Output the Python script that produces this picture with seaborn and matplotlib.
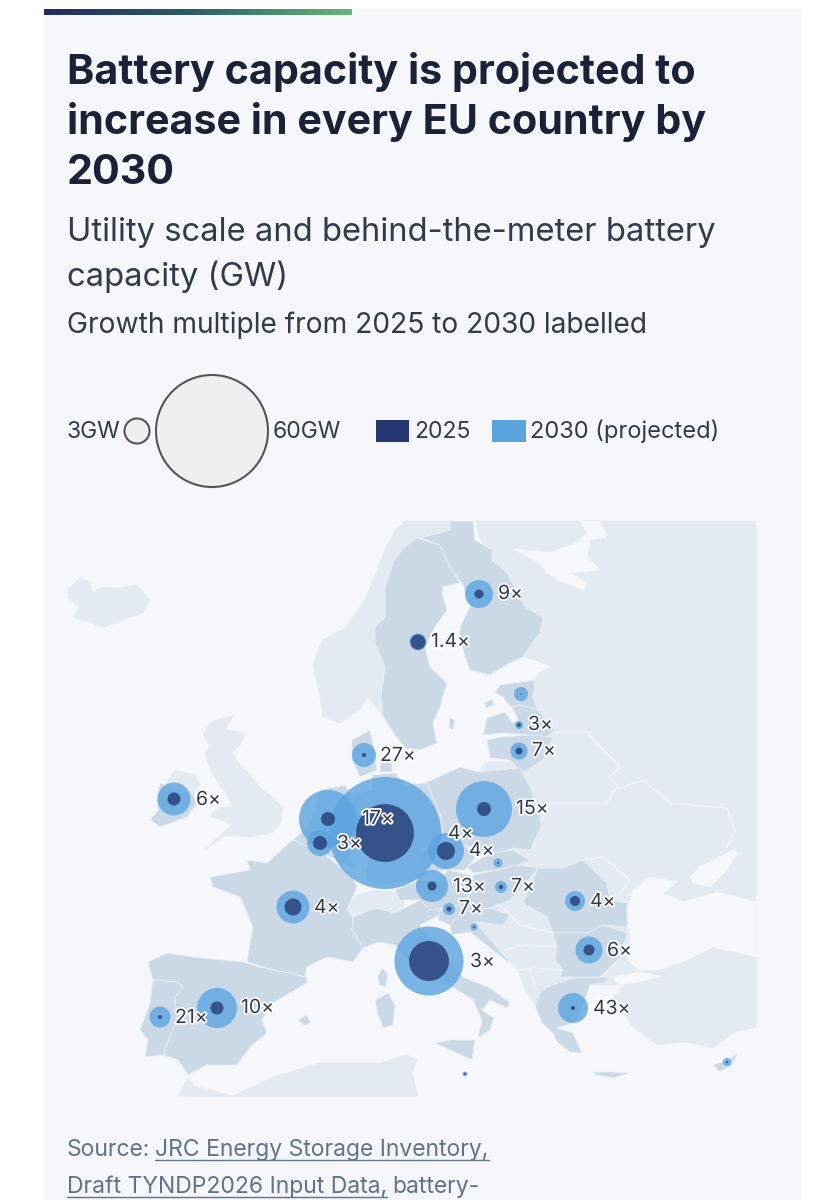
import matplotlib
matplotlib.use('Agg')
import matplotlib.pyplot as plt
import matplotlib.patheffects as pe
from matplotlib.patches import Rectangle
import numpy as np
import pandas as pd
import seaborn as sns

sns.set_style('white')
plt.rcParams['font.family'] = ['Inter', 'DejaVu Sans']

# capacity in GW
countries = ['FI', 'SE', 'EE', 'LV', 'LT', 'DK', 'IE', 'PL', 'NL', 'DE', 'BE', 'CZ', 'FR', 'AT',
             'SK', 'HU', 'SI', 'HR', 'RO', 'BG', 'IT', 'GR', 'ES', 'PT', 'MT', 'CY']
gw_2025 = [0.39, 1.08, 0.01, 0.08, 0.23, 0.08, 0.81, 0.94, 0.94, 16, 0.94, 1.55, 1.38, 0.39,
           0.02, 0.09, 0.12, 0.02, 0.48, 0.58, 7.65, 0.08, 0.81, 0.08, 0.02, 0.02]
gw_2030 = [3.75, 1.38, 0.94, 0.31, 1.38, 2.75, 5.2, 15, 16.1, 62, 3.2, 6.2, 5.2, 4.9,
           0.39, 0.69, 0.69, 0.23, 1.9, 3.5, 22.8, 4.3, 7.65, 2.1, 0.12, 0.31]
# where each country sits on the map
map_x = [479, 418, 521, 519, 519, 364, 174, 484, 328, 385, 320, 446, 293, 432,
         498, 501, 449, 474, 575, 589, 429, 573, 217, 160, 465, 727]
map_y = [594, 642, 694, 725, 751, 755, 799, 809, 819, 833, 843, 851, 907, 886,
         863, 887, 909, 927, 901, 950, 961, 1008, 1008, 1017, 1074, 1062]

labels = ['9×', '1.4×', '3×', '7×', '27×', '6×', '15×', '17×', '3×', '4×', '4×', '13×', '7×', '7×',
          '4×', '4×', '6×', '3×', '43×', '10×', '21×']
label_x = [498, 431, 528, 532, 380, 196, 516, 362, 337, 448, 469, 453, 511, 459,
           314, 590, 607, 470, 593, 241, 175]
label_y = [594, 642, 725, 751, 756, 800, 809, 819, 844, 834, 851, 887, 887, 909,
           908, 902, 951, 962, 1009, 1008, 1018]

legend_gw = [3, 60]
legend_x = [137, 212]
legend_y = [431, 431]

# map outlines
light_land = {
    'iceland': [(67, 590), (80, 578), (90, 582), (92, 592), (103, 587), (117, 588), (137, 585), (150, 600),
                (143, 613), (123, 620), (103, 628), (90, 622), (73, 617), (80, 607), (68, 598)],
    'norway': [(313, 665), (322, 640), (345, 628), (365, 600), (375, 575), (385, 550), (395, 530), (405, 521),
               (452, 521), (450, 530), (420, 538), (403, 548), (385, 587), (385, 617), (375, 627), (385, 667),
               (381, 697), (383, 717), (368, 697), (360, 710), (340, 723), (323, 717), (320, 697)],
    'uk': [(210, 723), (222, 718), (233, 716), (225, 730), (246, 733), (240, 745), (232, 752), (240, 765),
           (250, 775), (262, 790), (270, 795), (283, 808), (281, 822), (272, 833), (250, 837), (225, 836),
           (205, 850), (217, 838), (232, 825), (222, 820), (210, 817), (218, 808), (232, 806), (228, 795),
           (220, 785), (213, 775), (205, 755), (210, 745), (203, 735)],
    'nireland': [(165, 785), (175, 770), (195, 775), (200, 785), (192, 797), (175, 790)],
    'africa': [(178, 1096), (188, 1078), (195, 1086), (233, 1096), (273, 1077), (320, 1063), (380, 1063),
               (407, 1055), (417, 1060), (412, 1072), (418, 1096)],
    'east': [(475, 521), (756, 521), (756, 1027), (733, 1033), (713, 1048), (687, 1042), (657, 1045), (633, 1027),
             (613, 997), (625, 985), (590, 985), (560, 995), (535, 1005), (525, 990), (518, 970), (500, 950),
             (473, 925), (465, 915), (470, 900), (500, 850), (500, 775), (480, 770), (485, 762), (520, 762),
             (530, 690), (535, 680), (540, 672), (553, 667), (535, 660), (523, 657), (510, 640)],
    'swiss': [(355, 895), (375, 890), (400, 893), (405, 905), (395, 913), (375, 908), (355, 915), (347, 910)],
}
sea = {
    'white': [(580, 521), (587, 533), (577, 543), (550, 552), (513, 549), (540, 563), (547, 573), (563, 582),
              (583, 590), (587, 583), (570, 573), (600, 570), (587, 557), (590, 540), (607, 537), (600, 521)],
    'black': [(627, 910), (633, 890), (650, 877), (677, 882), (663, 893), (683, 902), (717, 892), (756, 902),
              (756, 957), (740, 953), (713, 947), (687, 960), (660, 970), (640, 970), (627, 960), (630, 937)],
    'azov': [(690, 877), (700, 867), (733, 850), (737, 853), (727, 870), (710, 887), (693, 883)],
    'marmara': [(613, 977), (640, 972), (660, 976), (640, 982), (618, 985)],
}
eu_land = {
    'sweden': [(417, 538), (403, 548), (393, 563), (385, 587), (385, 617), (375, 627), (375, 643), (385, 667),
               (381, 697), (383, 717), (395, 735), (405, 748), (420, 750), (437, 743), (433, 723), (440, 707),
               (447, 683), (430, 667), (425, 647), (435, 627), (447, 610), (443, 597), (443, 587), (455, 584),
               (460, 583), (450, 567), (440, 545)],
    'finland': [(450, 521), (473, 521), (475, 540), (492, 550), (492, 560), (507, 573), (525, 607), (543, 617),
                (540, 633), (523, 657), (510, 663), (490, 675), (470, 670), (465, 657), (460, 637), (460, 627),
                (470, 607), (463, 585), (450, 567), (440, 545), (420, 538), (450, 530)],
    'estonia': [(495, 692), (500, 685), (535, 680), (533, 697), (538, 710), (520, 705), (510, 707), (503, 697)],
    'latvia': [(483, 735), (487, 718), (505, 712), (513, 723), (518, 720), (512, 707), (520, 705), (538, 710),
               (555, 730), (545, 738), (530, 735), (505, 733)],
    'lithuania': [(487, 740), (500, 737), (533, 735), (553, 737), (543, 760), (523, 773), (510, 760), (490, 758)],
    'denmark': [(352, 740), (370, 730), (373, 743), (377, 770), (360, 777), (352, 760)],
    'zealand': [(380, 758), (392, 760), (392, 772), (380, 772)],
    'ireland': [(150, 820), (160, 827), (187, 817), (197, 803), (193, 793), (177, 790), (160, 783), (157, 797),
                (158, 810)],
    'poland': [(425, 783), (460, 767), (478, 772), (520, 768), (530, 787), (542, 825), (530, 850), (513, 848),
               (490, 856), (465, 845), (445, 838), (440, 815)],
    'germany': [(372, 775), (395, 773), (405, 785), (427, 783), (440, 815), (445, 838), (420, 850), (428, 875),
                (415, 880), (380, 885), (365, 880), (370, 850), (345, 835), (350, 795), (372, 790)],
    'benelux': [(293, 840), (310, 825), (320, 790), (345, 785), (355, 800), (345, 835), (355, 870), (323, 853)],
    'france': [(247, 860), (250, 870), (210, 877), (213, 887), (240, 897), (253, 927), (247, 962), (273, 970),
               (305, 977), (307, 967), (327, 957), (353, 962), (363, 948), (352, 930), (353, 917), (347, 910),
               (357, 887), (353, 877), (323, 853), (293, 840), (283, 848), (267, 863)],
    'corsica': [(383, 968), (388, 975), (386, 987), (379, 985), (378, 975)],
    'sardinia': [(375, 1000), (388, 993), (395, 1005), (393, 1025), (383, 1028), (378, 1015)],
    'spain': [(148, 962), (167, 953), (193, 957), (243, 962), (260, 967), (307, 977), (307, 983), (273, 1003),
              (262, 1020), (267, 1033), (250, 1047), (237, 1065), (207, 1065), (188, 1075), (178, 1060),
              (163, 1055), (167, 1043), (177, 1020), (175, 997), (183, 987), (177, 982), (153, 980), (150, 970)],
    'portugal': [(153, 980), (177, 982), (183, 987), (175, 997), (177, 1020), (167, 1043), (163, 1055), (145, 1057),
                 (148, 1040), (140, 1030), (150, 1003)],
    'mallorca': [(298, 1020), (306, 1015), (311, 1022), (305, 1026)],
    'italy': [(363, 948), (352, 930), (353, 917), (375, 908), (395, 913), (420, 900), (445, 905), (440, 915),
              (420, 925), (435, 945), (463, 977), (490, 988), (510, 1003), (507, 1008), (490, 1000), (482, 1010),
              (494, 1018), (490, 1030), (478, 1038), (482, 1020), (473, 1000), (450, 985), (420, 975), (395, 945),
              (378, 942)],
    'sicily': [(435, 1043), (450, 1040), (475, 1040), (472, 1060), (457, 1053)],
    'austria': [(395, 890), (420, 880), (440, 880), (448, 870), (470, 875), (472, 892), (460, 905), (430, 910),
                (420, 900), (400, 900)],
    'czechia': [(415, 855), (445, 838), (465, 845), (475, 858), (465, 870), (445, 870), (425, 875)],
    'slovakia': [(467, 867), (490, 853), (513, 850), (530, 860), (517, 865), (497, 870), (473, 873)],
    'hungary': [(473, 875), (497, 870), (517, 865), (538, 868), (520, 890), (510, 900), (490, 908), (462, 912),
                (460, 905), (472, 892)],
    'slovenia': [(440, 910), (460, 905), (462, 912), (450, 925), (438, 920)],
    'croatia': [(450, 925), (462, 912), (490, 908), (510, 915), (503, 925), (475, 922), (495, 945), (515, 968),
                (495, 952), (470, 932), (452, 935)],
    'romania': [(538, 868), (563, 868), (583, 860), (607, 883), (610, 900), (627, 903), (627, 927), (603, 925),
                (587, 933), (553, 933), (547, 917), (523, 903)],
    'bulgaria': [(553, 933), (587, 933), (603, 925), (627, 933), (620, 957), (610, 967), (600, 977), (560, 977),
                 (563, 970), (555, 960), (557, 947)],
    'greece': [(540, 993), (547, 987), (573, 978), (607, 977), (607, 982), (590, 985), (580, 1015), (573, 1023),
               (557, 1028), (573, 1033), (582, 1053), (570, 1052), (557, 1042), (553, 1033), (542, 1023), (535, 1007)],
    'crete': [(592, 1072), (613, 1072), (630, 1073), (613, 1078), (597, 1075)],
    'cyprus': [(713, 1065), (728, 1060), (738, 1053), (732, 1065), (720, 1072)],
    'gotland': [(450, 718), (455, 720), (453, 730), (449, 728)],
    'saaremaa': [(484, 703), (492, 699), (494, 705), (486, 708)],
}
east_borders = [
    [(540, 825), (550, 803), (607, 803), (613, 790), (643, 780), (670, 803), (727, 808), (735, 830), (727, 847)],
    [(553, 732), (587, 732), (620, 767), (610, 777), (617, 787), (610, 800)],
    [(583, 860), (603, 857), (630, 880), (617, 898)],
    [(500, 905), (520, 925), (555, 933)],
    [(505, 950), (525, 945), (557, 947)],
    [(518, 970), (535, 968), (563, 970)],
    [(535, 985), (530, 970)],
]

CARD = '#f5f7fb'
LIGHT = '#e3eaf2'
DARK = '#cbd8e6'
INK = '#1b2238'
TEXT = '#333a4a'
GREY = '#62728a'

fig = plt.figure(figsize=(8.29, 12), dpi=100, facecolor='white')
ax = fig.add_axes([0, 0, 1, 1])

# card and the gradient strip on top of it
ax.add_patch(Rectangle((44, 9), 757, 1195, facecolor=CARD, edgecolor='none', zorder=0))
strip = np.linspace(0, 1, 256).reshape(1, -1)
strip_cmap = matplotlib.colors.LinearSegmentedColormap.from_list('strip', ['#1f2c5c', '#2f5f68', '#68b878'])
ax.imshow(strip, extent=(44, 352, 15, 9), cmap=strip_cmap, aspect='auto', zorder=1)

for shape in light_land.values():
    ax.fill(*zip(*shape), facecolor=LIGHT, edgecolor=LIGHT, lw=0.4, zorder=1)
for shape in sea.values():
    ax.fill(*zip(*shape), facecolor=CARD, edgecolor=CARD, lw=0.4, zorder=2)
for line in east_borders:
    ax.plot(*zip(*line), color=CARD, lw=0.7, zorder=2)
for shape in eu_land.values():
    ax.fill(*zip(*shape), facecolor=DARK, edgecolor='#eef2f7', lw=0.5, zorder=3)

# sqrt scale: 60 GW has a 56 px radius on the legend, so size (pt^2) is linear in GW
size_norm = (0, 60)
size_range = (0, 108.4 * 60)

bubbles = pd.DataFrame({'country': countries, 'x': map_x, 'y': map_y, 'gw_2025': gw_2025, 'gw_2030': gw_2030})
outer = bubbles.sort_values('gw_2030', ascending=False)
sns.scatterplot(data=outer, x='x', y='y', size='gw_2030', sizes=size_range, size_norm=size_norm,
                color='#5ba4e0', alpha=0.8, linewidth=0, legend=False, ax=ax, zorder=4)
sns.scatterplot(data=bubbles, x='x', y='y', size='gw_2025', sizes=size_range, size_norm=size_norm,
                color='#24356f', alpha=0.76, linewidth=0, legend=False, ax=ax, zorder=5)

halo = [pe.withStroke(linewidth=2.5, foreground='white')]
for lab, lx, ly in zip(labels, label_x, label_y):
    ax.text(lx, ly, lab, fontsize=14, color=TEXT, va='center', ha='left', zorder=6, path_effects=halo)

# size legend
legend_df = pd.DataFrame({'x': legend_x, 'y': legend_y, 'gw': legend_gw})
sns.scatterplot(data=legend_df, x='x', y='y', size='gw', sizes=size_range, size_norm=size_norm,
                color='#efefef', edgecolor='#555555', linewidth=1.5, legend=False, ax=ax, zorder=4)
ax.text(67, 438, '3GW', fontsize=16.5, color=TEXT, zorder=6)
ax.text(273, 438, '60GW', fontsize=16.5, color=TEXT, zorder=6)
ax.add_patch(Rectangle((376, 420), 33, 22, facecolor='#24356f', edgecolor='none', zorder=4))
ax.text(414, 438, '2025', fontsize=16.5, color=TEXT, zorder=6)
ax.add_patch(Rectangle((492, 420), 34, 22, facecolor='#5ba4e0', edgecolor='none', zorder=4))
ax.text(530, 438, '2030 (projected)', fontsize=17, color=TEXT, zorder=6)

# headings
for ty, line in zip([84, 134, 184], ['Battery capacity is projected to', 'increase in every EU country by', '2030']):
    ax.text(67, ty, line, fontsize=29.7, fontweight='bold', color=INK, zorder=6)
ax.text(67, 241, 'Utility scale and behind-the-meter battery', fontsize=23.6, color=TEXT, zorder=6)
ax.text(67, 286, 'capacity (GW)', fontsize=23.6, color=TEXT, zorder=6)
ax.text(67, 333, 'Growth multiple from 2025 to 2030 labelled', fontsize=20.3, color=TEXT, zorder=6)

# source, with the links underlined
renderer = fig.canvas.get_renderer()
ax.set_xlim(0, 829)
ax.set_ylim(1200, 0)
ax.axis('off')


def run_of_text(x, y, parts):
    for part, linked in parts:
        t = ax.text(x, y, part, fontsize=16.5, color=GREY, zorder=6)
        x1 = t.get_window_extent(renderer).x1
        if linked:
            ax.plot([x, x1], [y + 4, y + 4], color=GREY, lw=1, zorder=6)
        x = x1 + 5


run_of_text(67, 1156, [('Source:', False), ('JRC Energy Storage Inventory,', True)])
run_of_text(67, 1193, [('Draft TYNDP2026 Input Data,', True), ('battery-', False)])

fig.savefig('out.png', dpi=100, facecolor='white')
